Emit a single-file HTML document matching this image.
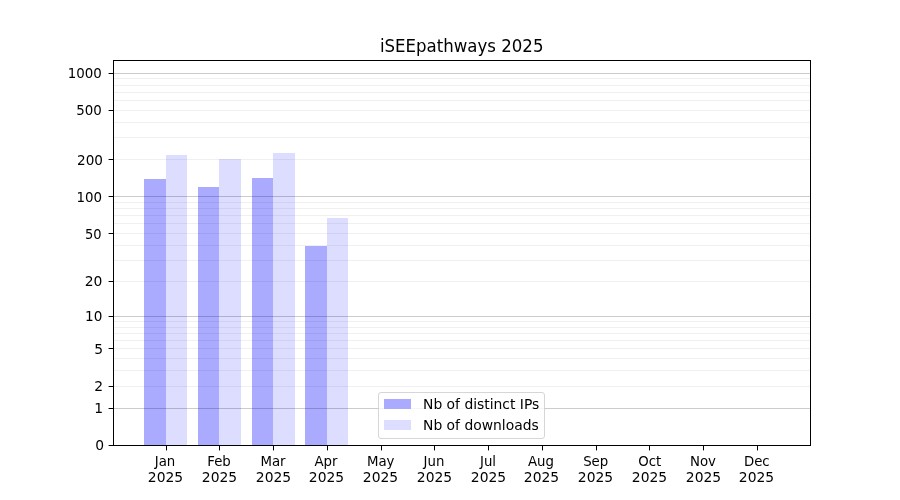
<!DOCTYPE html>
<html><head><meta charset="utf-8"><title>iSEEpathways 2025</title>
<style>html,body{margin:0;padding:0;background:#fff;}body{width:900px;height:500px;overflow:hidden;position:relative;}</style>
</head><body>
<svg width="900" height="500" viewBox="0 0 900 500" style="position:absolute;left:0;top:0">
<rect x="0" y="0" width="900" height="500" fill="#ffffff"/>
<g shape-rendering="crispEdges">
<rect x="144" y="179" width="22" height="266" fill="#aaaaff"/>
<rect x="166" y="155" width="21" height="290" fill="#ddddff"/>
<rect x="198" y="187" width="21" height="258" fill="#aaaaff"/>
<rect x="219" y="159" width="22" height="286" fill="#ddddff"/>
<rect x="252" y="178" width="21" height="267" fill="#aaaaff"/>
<rect x="273" y="153" width="22" height="292" fill="#ddddff"/>
<rect x="305" y="246" width="22" height="199" fill="#aaaaff"/>
<rect x="327" y="218" width="21" height="227" fill="#ddddff"/>
<rect x="114" y="386" width="696" height="1" fill="#000" fill-opacity="0.06"/>
<rect x="114" y="370" width="696" height="1" fill="#000" fill-opacity="0.06"/>
<rect x="114" y="358" width="696" height="1" fill="#000" fill-opacity="0.06"/>
<rect x="114" y="348" width="696" height="1" fill="#000" fill-opacity="0.06"/>
<rect x="114" y="340" width="696" height="1" fill="#000" fill-opacity="0.06"/>
<rect x="114" y="333" width="696" height="1" fill="#000" fill-opacity="0.06"/>
<rect x="114" y="327" width="696" height="1" fill="#000" fill-opacity="0.06"/>
<rect x="114" y="321" width="696" height="1" fill="#000" fill-opacity="0.06"/>
<rect x="114" y="281" width="696" height="1" fill="#000" fill-opacity="0.06"/>
<rect x="114" y="260" width="696" height="1" fill="#000" fill-opacity="0.06"/>
<rect x="114" y="245" width="696" height="1" fill="#000" fill-opacity="0.06"/>
<rect x="114" y="233" width="696" height="1" fill="#000" fill-opacity="0.06"/>
<rect x="114" y="223" width="696" height="1" fill="#000" fill-opacity="0.06"/>
<rect x="114" y="215" width="696" height="1" fill="#000" fill-opacity="0.06"/>
<rect x="114" y="208" width="696" height="1" fill="#000" fill-opacity="0.06"/>
<rect x="114" y="202" width="696" height="1" fill="#000" fill-opacity="0.06"/>
<rect x="114" y="159" width="696" height="1" fill="#000" fill-opacity="0.06"/>
<rect x="114" y="137" width="696" height="1" fill="#000" fill-opacity="0.06"/>
<rect x="114" y="122" width="696" height="1" fill="#000" fill-opacity="0.06"/>
<rect x="114" y="110" width="696" height="1" fill="#000" fill-opacity="0.06"/>
<rect x="114" y="100" width="696" height="1" fill="#000" fill-opacity="0.06"/>
<rect x="114" y="92" width="696" height="1" fill="#000" fill-opacity="0.06"/>
<rect x="114" y="85" width="696" height="1" fill="#000" fill-opacity="0.06"/>
<rect x="114" y="78" width="696" height="1" fill="#000" fill-opacity="0.06"/>
<rect x="114" y="408" width="696" height="1" fill="#000" fill-opacity="0.2"/>
<rect x="114" y="316" width="696" height="1" fill="#000" fill-opacity="0.2"/>
<rect x="114" y="196" width="696" height="1" fill="#000" fill-opacity="0.2"/>
<rect x="114" y="73" width="696" height="1" fill="#000" fill-opacity="0.2"/>
<rect x="109" y="445" width="4" height="1" fill="#000"/><rect x="108" y="445" width="1" height="1" fill="#000" fill-opacity="0.4"/>
<rect x="109" y="408" width="4" height="1" fill="#000"/><rect x="108" y="408" width="1" height="1" fill="#000" fill-opacity="0.4"/>
<rect x="109" y="386" width="4" height="1" fill="#000"/><rect x="108" y="386" width="1" height="1" fill="#000" fill-opacity="0.4"/>
<rect x="109" y="348" width="4" height="1" fill="#000"/><rect x="108" y="348" width="1" height="1" fill="#000" fill-opacity="0.4"/>
<rect x="109" y="316" width="4" height="1" fill="#000"/><rect x="108" y="316" width="1" height="1" fill="#000" fill-opacity="0.4"/>
<rect x="109" y="281" width="4" height="1" fill="#000"/><rect x="108" y="281" width="1" height="1" fill="#000" fill-opacity="0.4"/>
<rect x="109" y="233" width="4" height="1" fill="#000"/><rect x="108" y="233" width="1" height="1" fill="#000" fill-opacity="0.4"/>
<rect x="109" y="196" width="4" height="1" fill="#000"/><rect x="108" y="196" width="1" height="1" fill="#000" fill-opacity="0.4"/>
<rect x="109" y="159" width="4" height="1" fill="#000"/><rect x="108" y="159" width="1" height="1" fill="#000" fill-opacity="0.4"/>
<rect x="109" y="110" width="4" height="1" fill="#000"/><rect x="108" y="110" width="1" height="1" fill="#000" fill-opacity="0.4"/>
<rect x="109" y="73" width="4" height="1" fill="#000"/><rect x="108" y="73" width="1" height="1" fill="#000" fill-opacity="0.4"/>
<rect x="166" y="446" width="1" height="4" fill="#000"/><rect x="166" y="450" width="1" height="1" fill="#000" fill-opacity="0.4"/>
<rect x="219" y="446" width="1" height="4" fill="#000"/><rect x="219" y="450" width="1" height="1" fill="#000" fill-opacity="0.4"/>
<rect x="273" y="446" width="1" height="4" fill="#000"/><rect x="273" y="450" width="1" height="1" fill="#000" fill-opacity="0.4"/>
<rect x="327" y="446" width="1" height="4" fill="#000"/><rect x="327" y="450" width="1" height="1" fill="#000" fill-opacity="0.4"/>
<rect x="381" y="446" width="1" height="4" fill="#000"/><rect x="381" y="450" width="1" height="1" fill="#000" fill-opacity="0.4"/>
<rect x="434" y="446" width="1" height="4" fill="#000"/><rect x="434" y="450" width="1" height="1" fill="#000" fill-opacity="0.4"/>
<rect x="488" y="446" width="1" height="4" fill="#000"/><rect x="488" y="450" width="1" height="1" fill="#000" fill-opacity="0.4"/>
<rect x="542" y="446" width="1" height="4" fill="#000"/><rect x="542" y="450" width="1" height="1" fill="#000" fill-opacity="0.4"/>
<rect x="596" y="446" width="1" height="4" fill="#000"/><rect x="596" y="450" width="1" height="1" fill="#000" fill-opacity="0.4"/>
<rect x="649" y="446" width="1" height="4" fill="#000"/><rect x="649" y="450" width="1" height="1" fill="#000" fill-opacity="0.4"/>
<rect x="703" y="446" width="1" height="4" fill="#000"/><rect x="703" y="450" width="1" height="1" fill="#000" fill-opacity="0.4"/>
<rect x="757" y="446" width="1" height="4" fill="#000"/><rect x="757" y="450" width="1" height="1" fill="#000" fill-opacity="0.4"/>
<rect x="113" y="60" width="698" height="1" fill="#000"/>
<rect x="113" y="445" width="698" height="1" fill="#000"/>
<rect x="113" y="60" width="1" height="386" fill="#000"/>
<rect x="810" y="60" width="1" height="386" fill="#000"/>
</g>
<g font-family="'DejaVu Sans', 'Liberation Sans', sans-serif" fill="#000" font-size="13.89px">
<text transform="translate(104.0,450) scale(1,1)" text-anchor="end">0</text>
<text transform="translate(103.1,413) scale(1,1)" text-anchor="end">1</text>
<text transform="translate(103.1,391) scale(1,1)" text-anchor="end">2</text>
<text transform="translate(103.1,354) scale(1,1)" text-anchor="end">5</text>
<text transform="translate(102.3,321) scale(0.98,1)" text-anchor="end">10</text>
<text transform="translate(102.4,286) scale(1,1)" text-anchor="end">20</text>
<text transform="translate(101.5,239) scale(0.94,1)" text-anchor="end">50</text>
<text transform="translate(102.1,202) scale(0.965,1)" text-anchor="end">100</text>
<text transform="translate(103.0,165) scale(0.98,1)" text-anchor="end">200</text>
<text transform="translate(101.8,115) scale(0.965,1)" text-anchor="end">500</text>
<text transform="translate(101.9,78) scale(0.965,1)" text-anchor="end">1000</text>
<text transform="translate(165.0,466) scale(0.96,1)" text-anchor="middle">Jan</text>
<text x="165.5" y="481.5" text-anchor="middle">2025</text>
<text transform="translate(219.0,466) scale(0.96,1)" text-anchor="middle">Feb</text>
<text x="219.5" y="481.5" text-anchor="middle">2025</text>
<text transform="translate(273.0,466) scale(0.96,1)" text-anchor="middle">Mar</text>
<text x="273.5" y="481.5" text-anchor="middle">2025</text>
<text transform="translate(326.0,466) scale(0.96,1)" text-anchor="middle">Apr</text>
<text x="326.5" y="481.5" text-anchor="middle">2025</text>
<text transform="translate(380.7,466) scale(0.96,1)" text-anchor="middle">May</text>
<text x="380.5" y="481.5" text-anchor="middle">2025</text>
<text transform="translate(434.0,466) scale(0.96,1)" text-anchor="middle">Jun</text>
<text x="434.5" y="481.5" text-anchor="middle">2025</text>
<text transform="translate(488.0,466) scale(0.96,1)" text-anchor="middle">Jul</text>
<text x="488.5" y="481.5" text-anchor="middle">2025</text>
<text transform="translate(541.0,466) scale(0.96,1)" text-anchor="middle">Aug</text>
<text x="541.5" y="481.5" text-anchor="middle">2025</text>
<text transform="translate(595.7,466) scale(0.96,1)" text-anchor="middle">Sep</text>
<text x="595.5" y="481.5" text-anchor="middle">2025</text>
<text transform="translate(649.7,466) scale(0.96,1)" text-anchor="middle">Oct</text>
<text x="649.5" y="481.5" text-anchor="middle">2025</text>
<text transform="translate(703.0,466) scale(0.96,1)" text-anchor="middle">Nov</text>
<text x="703.5" y="481.5" text-anchor="middle">2025</text>
<text transform="translate(756.8,466) scale(0.96,1)" text-anchor="middle">Dec</text>
<text x="756.5" y="481.5" text-anchor="middle">2025</text>
<text transform="translate(461.7,52) scale(0.996,1.083)" text-anchor="middle" font-size="16.67px">iSEEpathways 2025</text>
</g>
<rect x="378.5" y="392.5" width="166" height="46" rx="2.5" ry="2.5" fill="#fff" fill-opacity="0.8" stroke="#cccccc" stroke-opacity="0.8" stroke-width="1"/>
<rect x="384" y="399" width="27" height="10" fill="#aaaaff" shape-rendering="crispEdges"/>
<rect x="384" y="420" width="27" height="10" fill="#ddddff" shape-rendering="crispEdges"/>
<g font-family="'DejaVu Sans', 'Liberation Sans', sans-serif" fill="#000" font-size="13.89px">
<text x="423" y="409">Nb of distinct IPs</text>
<text x="423" y="430">Nb of downloads</text>
</g>
</svg>
</body></html>
